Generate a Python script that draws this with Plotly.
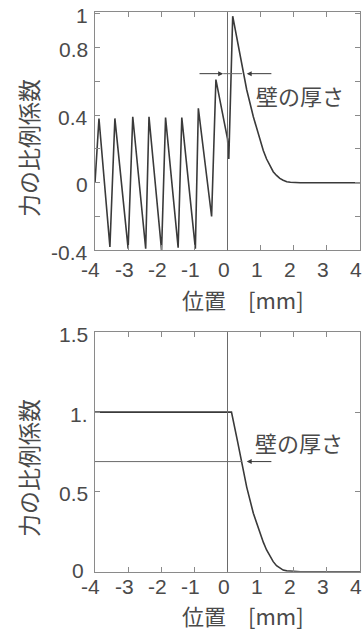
import plotly.graph_objects as go

# ---------------- data ----------------
top_x = [-4.0, -3.88, -3.55, -3.40, -3.00, -2.86, -2.47, -2.37, -1.99, -1.87, -1.49, -1.38,
         -0.97, -0.88, -0.48, -0.35, 0.00, 0.04, 0.157, 0.38, 0.58, 0.78, 0.98, 1.08, 1.18,
         1.28, 1.38, 1.48, 1.58, 1.68, 1.79, 1.90, 2.0, 2.2, 4.0]
top_y = [0.0, 0.38, -0.38, 0.38, -0.39, 0.39, -0.39, 0.39, -0.40, 0.385, -0.385, 0.385,
         -0.39, 0.44, -0.20, 0.61, 0.26, 0.14, 0.985, 0.75, 0.55, 0.39, 0.25, 0.19, 0.14,
         0.10, 0.065, 0.043, 0.025, 0.014, 0.006, 0.003, 0.001, 0.0, 0.0]

bottom_x = [-4.0, 0.12, 0.30, 0.43, 0.58, 0.78, 0.98, 1.08, 1.18, 1.28, 1.38, 1.48, 1.58,
            1.68, 1.79, 2.0, 2.2, 4.0]
bottom_y = [1.0, 1.0, 0.82, 0.69, 0.53, 0.366, 0.24, 0.185, 0.136, 0.095, 0.063, 0.038,
            0.021, 0.010, 0.005, 0.001, 0.0, 0.0]

x_ticks = [-4, -3, -2, -1, 0, 1, 2, 3, 4]
x_ticktext = ["-4", "-3", "-2", "-1", "0", "1", "2", "3", "4"]
top_yticks = [-0.4, -0.2, 0.0, 0.2, 0.4, 0.6, 0.8, 1.0]
top_yticktext = ["-0.4", "", "0", "", "0.4", "", "0.8", "1"]
bot_yticks = [0.0, 0.5, 1.0, 1.5]
bot_yticktext = ["0", "0.5", "1.", "1.5"]

y_title = "力の比例係数"
x_title = "位置\u3000[mm]"
wall_label = "壁の厚さ"

wall_x = 0.0
top_arrow_y = 0.645
top_arrow_left = [-0.89, -0.13]   # tail, tip
top_arrow_right = [1.37, 0.58]    # tail, tip
top_gap_end = 0.44
bot_level_y = 0.69
bot_level_end = 0.44
bot_arrow = [1.37, 0.58]          # tail, tip

# ---------------- style ----------------
W, H = 363, 632
def px(v):
    return v / W
def py(v):
    return 1 - v / H

FRAME = "#8a8a8a"
LINE = "#3a3a3a"
TXT = "#4a4a4a"
NUM_FONT = dict(family="Liberation Sans, Arial, sans-serif", size=21, color=TXT)
JP_FONT = dict(family="Noto Sans CJK JP, sans-serif", size=22, color=TXT)

fig = go.Figure()
fig.add_trace(go.Scatter(x=top_x, y=top_y, mode="lines", xaxis="x", yaxis="y",
                         line=dict(color=LINE, width=1.6), hoverinfo="skip"))
fig.add_trace(go.Scatter(x=bottom_x, y=bottom_y, mode="lines", xaxis="x2", yaxis="y2",
                         line=dict(color=LINE, width=1.6), hoverinfo="skip"))

common_x = dict(range=[-4, 4], tickvals=x_ticks, ticks="inside", showticklabels=False,
                ticklen=5, tickcolor=FRAME, showline=True, linecolor=FRAME, linewidth=1,
                mirror="ticks", showgrid=False, zeroline=False,
                domain=[px(95), px(360)])
common_y = dict(ticks="inside", ticklen=5, tickcolor=FRAME, showline=True, linecolor=FRAME,
                linewidth=1, mirror="ticks", showgrid=False, zeroline=False,
                showticklabels=False)

fig.update_layout(
    width=W, height=H, margin=dict(l=0, r=0, t=0, b=0),
    paper_bgcolor="white", plot_bgcolor="white", showlegend=False,
    xaxis=dict(common_x, anchor="y"),
    yaxis=dict(common_y, anchor="x", range=[-0.4, 1.008], tickvals=top_yticks,
               domain=[py(250.3), py(12.3)]),
    xaxis2=dict(common_x, anchor="y2"),
    yaxis2=dict(common_y, anchor="x2", range=[0, 1.5], tickvals=bot_yticks,
                domain=[py(571.7), py(332.3)]),
)

shapes = []
for xr, yr in (("x", "y domain"), ("x2", "y2 domain")):
    shapes.append(dict(type="line", xref=xr, yref=yr, x0=wall_x, x1=wall_x, y0=0, y1=1,
                       line=dict(color="#6a6a6a", width=1)))
shapes.append(dict(type="line", xref="x", yref="y", x0=top_arrow_left[1], x1=top_gap_end,
                   y0=top_arrow_y, y1=top_arrow_y, line=dict(color="#6a6a6a", width=1)))
shapes.append(dict(type="line", xref="x2", yref="y2", x0=-4, x1=bot_level_end,
                   y0=bot_level_y, y1=bot_level_y, line=dict(color="#6a6a6a", width=1)))
fig.update_layout(shapes=shapes)

ann = []
def arrow(xref, yref, tail, tip, yv):
    return dict(xref=xref, yref=yref, axref=xref, ayref=yref, x=tip, y=yv, ax=tail, ay=yv,
                text="", showarrow=True, arrowhead=2, arrowsize=1, arrowwidth=1,
                arrowcolor="#3a3a3a", standoff=0)
ann.append(arrow("x", "y", top_arrow_left[0], top_arrow_left[1], top_arrow_y))
ann.append(arrow("x", "y", top_arrow_right[0], top_arrow_right[1], top_arrow_y))
ann.append(arrow("x2", "y2", bot_arrow[0], bot_arrow[1], bot_level_y))

# tick labels
for xr, ylab in (("x", 269.5), ("x2", 586)):
    for v, t in zip(x_ticks, x_ticktext):
        ann.append(dict(xref=xr, yref="paper", x=v, y=py(ylab), text=t, showarrow=False,
                        font=NUM_FONT, xanchor="center", yanchor="middle", xshift=-4,
                        borderpad=0))
for yr, vals, texts in (("y", top_yticks, top_yticktext), ("y2", bot_yticks, bot_yticktext)):
    for i, (v, t) in enumerate(zip(vals, texts)):
        if t:
            corner = (yr == "y2" and i == 0)
            ann.append(dict(xref="paper", yref=yr, x=px(85 if corner else 89), y=v, text=t,
                            showarrow=False, font=NUM_FONT, xanchor="right",
                            yanchor="middle", yshift=1 if corner else -2, borderpad=0))

ann.append(dict(xref="paper", yref="paper", x=px(299.5), y=py(95), text=wall_label,
                showarrow=False, font=JP_FONT, xanchor="center", yanchor="middle"))
ann.append(dict(xref="paper", yref="paper", x=px(298.5), y=py(441.7), text=wall_label,
                showarrow=False, font=JP_FONT, xanchor="center", yanchor="middle"))
for cy in (148, 468):
    ann.append(dict(xref="paper", yref="paper", x=px(28), y=py(cy), text=y_title,
                    textangle=-90, showarrow=False, font=dict(JP_FONT, size=23),
                    xanchor="center", yanchor="middle"))
for cy in (299, 615):
    ann.append(dict(xref="paper", yref="paper", x=px(243), y=py(cy), text=x_title,
                    showarrow=False, font=JP_FONT, xanchor="center", yanchor="middle",
                    borderpad=0))
fig.update_layout(annotations=ann)

fig.write_html("out.html", config={"displayModeBar": False},
               post_script="document.body.style.margin='0';document.body.style.overflow='hidden';")
